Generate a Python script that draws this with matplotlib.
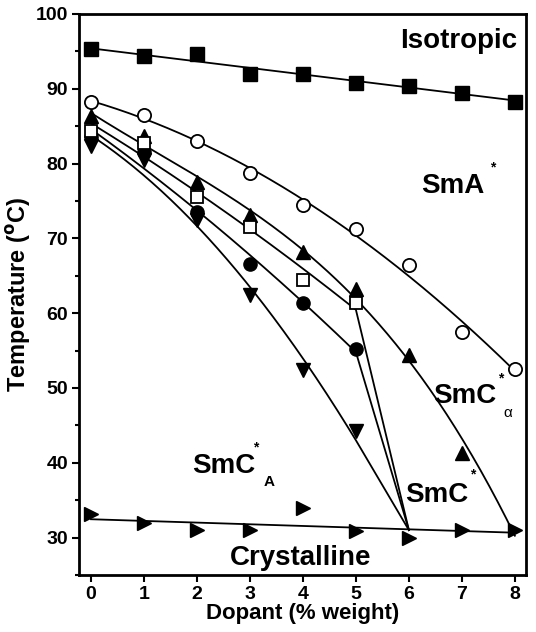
import numpy as np
import matplotlib
matplotlib.use("Agg")
import matplotlib.pyplot as plt

plt.rcParams['font.family'] = ['Liberation Sans', 'DejaVu Sans']
plt.rcParams['font.weight'] = 'bold'

# ---- data ----
dopant = [0, 1, 2, 3, 4, 5, 6, 7, 8]
iso_T = [95.3, 94.4, 94.6, 92.0, 92.0, 90.8, 90.4, 89.5, 88.3]          # filled squares
smA_T = [88.3, 86.5, 83.0, 78.7, 74.4, 71.2, 66.4, 57.5, 52.5]          # open circles
smCa_x = [0, 1, 2, 3, 4, 5, 6, 7]
smCa_T = [86.4, 83.7, 77.5, 73.1, 68.2, 63.2, 54.4, 41.3]              # filled up triangles
x05 = [0, 1, 2, 3, 4, 5]
osq_T = [84.4, 82.8, 75.6, 71.5, 64.5, 61.3]                            # open squares
fci_T = [83.5, 81.5, 73.5, 66.6, 61.4, 55.2]                            # filled circles
dtr_T = [82.4, 80.5, 72.4, 62.4, 52.4, 44.2]                            # filled down triangles
cry_T = [33.1, 32.0, 31.0, 31.0, 34.0, 30.9, 30.0, 31.0, 31.0]          # right triangles
end_6 = (6, 31.0)   # convergence point of SmC* boundaries
end_8 = (8, 31.0)   # end of SmCalpha* boundary

fig = plt.figure(figsize=(5.36, 6.32), dpi=100)
ax = fig.add_axes([79/536, 57/632, 447/536, 561/632])

lw = 1.3
k = 'black'

def fit_line(xs, ys, deg, x0, x1):
    p = np.polyfit(xs, ys, deg)
    xx = np.linspace(x0, x1, 200)
    return xx, np.polyval(p, xx)

# Isotropic line
xx, yy = fit_line(dopant, iso_T, 1, 0, 8)
ax.plot(xx, yy, color=k, lw=lw, zorder=2)
# SmA line
xx, yy = fit_line(dopant, smA_T, 2, 0, 8)
ax.plot(xx, yy, color=k, lw=lw, zorder=2)
# SmC alpha line (ends on crystalline line at 8)
xx, yy = fit_line(smCa_x + [end_8[0]], smCa_T + [end_8[1]], 3, 0, 8)
ax.plot(xx, yy, color=k, lw=lw, zorder=2)
# three lines converging at 6
for ser in (osq_T, fci_T, dtr_T):
    xx, yy = fit_line(x05, ser, 2, 0, 5)
    ax.plot(np.append(xx, end_6[0]), np.append(yy, end_6[1]), color=k, lw=lw, zorder=2)
# Crystalline line
xx, yy = fit_line(dopant, cry_T, 1, 0, 8)
ax.plot(xx, yy, color=k, lw=lw, zorder=2)

# markers
ms = 9.5
ax.plot(dopant, iso_T, 's', ms=ms, color=k, ls='none', zorder=3)
ax.plot(dopant, smA_T, 'o', ms=ms, mfc='white', mec=k, mew=1.3, ls='none', zorder=3)
ax.plot(smCa_x, smCa_T, '^', ms=ms + 1, color=k, ls='none', zorder=3)
ax.plot(x05, osq_T, 's', ms=ms - 0.5, mfc='white', mec=k, mew=1.3, ls='none', zorder=4)
ax.plot(x05, fci_T, 'o', ms=ms, color=k, ls='none', zorder=3)
ax.plot(x05, dtr_T, 'v', ms=ms + 1, color=k, ls='none', zorder=3)
ax.plot(dopant, cry_T, '>', ms=ms + 1, color=k, ls='none', zorder=3)

ax.set_xlim(-0.226, 8.21)
ax.set_ylim(25, 100)
ax.set_xticks(range(0, 9))
ax.set_yticks(range(30, 101, 10))
ax.set_yticks(range(25, 100, 10), minor=True)
for s in ax.spines.values():
    s.set_linewidth(2)
ax.tick_params(axis='both', which='major', direction='out', length=5, width=1.5,
               labelsize=14, top=False, right=False, pad=3)
ax.tick_params(axis='y', which='minor', direction='out', length=3, width=1.5)
for lab in ax.get_xticklabels() + ax.get_yticklabels():
    lab.set_fontweight('bold')

ax.set_xlabel('Dopant (% weight)', fontsize=16, fontweight='bold', labelpad=0)
ax.set_ylabel('Temperature ($\\mathbf{^{o}}$C)', fontsize=17, fontweight='bold', labelpad=2)

fs = 20
ax.text(8.04, 95.5, 'Isotropic', fontsize=fs, fontweight='bold', ha='right', va='baseline')
ax.text(6.24, 76.1, 'SmA', fontsize=fs, fontweight='bold', ha='left', va='baseline')
ax.text(7.58, 79.5, '*', fontsize=10, ha='center', va='center')
ax.text(6.45, 48.0, 'SmC', fontsize=fs, fontweight='bold', ha='left', va='baseline')
ax.text(7.74, 51.3, '*', fontsize=10, ha='center', va='center')
ax.text(7.87, 46.6, 'α', fontsize=11, fontweight='normal', ha='center', va='center')
ax.text(5.92, 34.8, 'SmC', fontsize=fs, fontweight='bold', ha='left', va='baseline')
ax.text(7.21, 38.4, '*', fontsize=10, ha='center', va='center')
ax.text(1.91, 38.7, 'SmC', fontsize=fs, fontweight='bold', ha='left', va='baseline')
ax.text(3.10, 42.0, '*', fontsize=10, ha='center', va='center')
ax.text(3.36, 37.4, 'A', fontsize=11, fontweight='bold', ha='center', va='center')
ax.text(3.96, 26.4, 'Crystalline', fontsize=fs, fontweight='bold', ha='center', va='baseline')

fig.savefig('out.png', dpi=100)
